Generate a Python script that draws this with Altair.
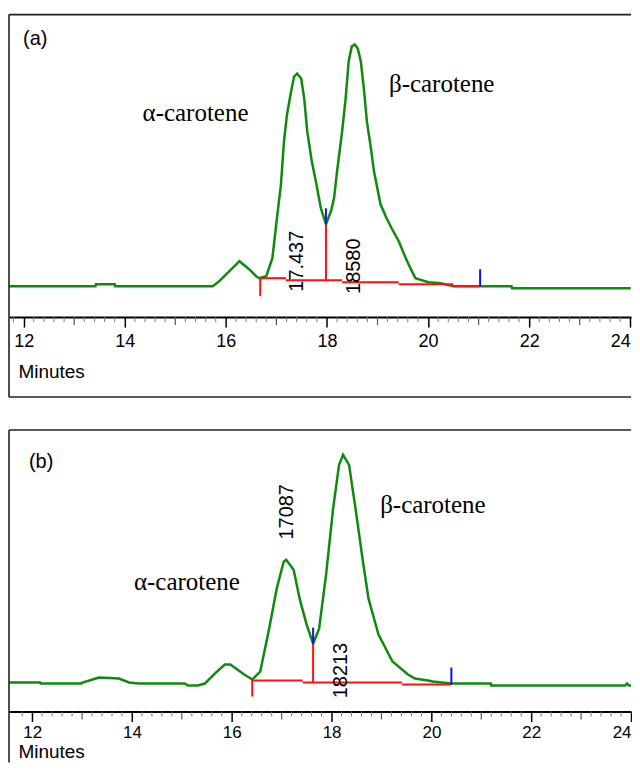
import altair as alt
import pandas as pd

# ---------------- data ----------------
# Panel (a) chromatogram trace (minutes, detector signal above baseline)
a_time = [11.71, 13.42, 13.43, 13.80, 13.81, 15.74, 15.87, 16.07, 16.27, 16.46,
          16.60, 16.66, 16.80, 16.92, 17.01, 17.09, 17.15, 17.21, 17.29, 17.35,
          17.41, 17.49, 17.55, 17.61, 17.70, 17.78, 17.88, 17.98, 18.08, 18.14,
          18.20, 18.30, 18.37, 18.43, 18.49, 18.55, 18.61, 18.67, 18.73, 18.79,
          18.87, 18.93, 19.06, 19.18, 19.28, 19.42, 19.56, 19.66, 19.75, 19.81,
          20.01, 20.25, 20.50, 21.03, 21.65, 21.66, 24.01]
a_signal = [0, 0, 2, 2, 0, 0, 5, 15, 25, 17,
            10, 8, 10, 28, 68, 102, 145, 172, 195, 210,
            213, 208, 188, 155, 125, 105, 78, 62, 75, 88,
            115, 155, 188, 225, 240, 242, 238, 225, 198, 165,
            138, 115, 82, 68, 58, 45, 28, 17, 8, 7,
            4, 3, 0, 0, 0, -2, -2]

# Panel (b) chromatogram trace
b_time = [11.54, 12.16, 12.17, 12.99, 13.01, 13.21, 13.34, 13.74, 13.94, 14.14,
          15.06, 15.12, 15.32, 15.46, 15.66, 15.86, 15.97, 16.25, 16.41, 16.57,
          16.75, 16.90, 17.04, 17.09, 17.24, 17.36, 17.50, 17.63, 17.75, 17.89,
          18.03, 18.15, 18.23, 18.35, 18.48, 18.62, 18.74, 18.94, 19.22, 19.53,
          19.67, 19.93, 20.03, 20.40, 21.19, 21.20, 23.88, 23.92, 23.96, 24.00]
b_signal = [0, 0, -1, -1, 0, 3, 5, 4, 0, -1,
            -1, -3, -3, -1, 9, 18, 18, 8, 3, 11,
            54, 94, 121, 123, 113, 84, 58, 39, 54, 108,
            174, 218, 228, 218, 174, 124, 84, 48, 21, 8,
            4, 2, 1, -1, -1, -3, -3, -1, -3, -3]

# Integration baseline (red) segments: start time, start signal, end time, end signal
a_red_t1 = [16.68, 16.68, 17.19, 18.30, 19.42, 20.50, 17.98]
a_red_v1 = [8, 8, 6, 4, 2, 0, 6]
a_red_t2 = [16.68, 17.19, 18.30, 19.42, 20.50, 21.03, 17.98]
a_red_v2 = [-10, 8, 6, 4, 2, 0, 62]
# Peak markers (blue)
a_blue_t = [17.98, 21.03]
a_blue_v1 = [62, 0]
a_blue_v2 = [78, 17]

b_red_t1 = [16.41, 16.41, 17.42, 19.41, 17.63]
b_red_v1 = [3, 2, 0, -2, 0]
b_red_t2 = [16.41, 17.42, 19.41, 20.40, 17.63]
b_red_v2 = [-14, 2, 0, -2, 39]
b_blue_t = [17.63, 20.40]
b_blue_v1 = [39, -2]
b_blue_v2 = [55, 15]

# Annotations
a_names = ["α-carotene", "β-carotene"]
a_names_t = [15.40, 20.27]
a_names_v = [173, 202]
a_rt = ["17.437", "18580"]
a_rt_t = [17.41, 18.53]
a_rt_v = [25, 20]

b_names = ["α-carotene", "β-carotene"]
b_names_t = [15.10, 20.03]
b_names_v = [101, 178]
b_rt = ["17087", "18213"]
b_rt_t = [17.10, 18.19]
b_rt_v = [171, 12]

major_ticks = [12, 14, 16, 18, 20, 22, 24]
odd_ticks = [13, 15, 17, 19, 21, 23]
minor_ticks = [round(11.8 + 0.2 * i, 1) for i in range(63)]

GREEN = "#0f8a0f"
RED = "#ff1010"
BLUE = "#1010ff"
W = 623


def panel(letter, t, v, r_t1, r_v1, r_t2, r_v2, bl_t, bl_v1, bl_v2,
          names, names_t, names_v, rts, rts_t, rts_v,
          xdom, ydom, h, frame_bottom, letter_t, letter_v, draw_bottom,
          title_y, label_size, label_pad):
    xs = alt.Scale(domain=xdom, nice=False, zero=False)
    ys = alt.Scale(domain=ydom, nice=False, zero=False)
    xaxis = alt.Axis(
        values=major_ticks, tickSize=10, tickColor="black", tickWidth=1.5,
        domainColor="black", domainWidth=2, grid=False,
        labelFont="Liberation Sans", labelFontSize=label_size, labelColor="black",
        labelPadding=label_pad, labelFlush=10, labelOverlap=False,
        title="Minutes", titleFont="Liberation Sans", titleFontSize=19,
        titleFontWeight="normal", titleColor="black", titleAlign="left",
        titleAnchor="start", titleAngle=0, titleX=9, titleY=title_y,
        titleBaseline="middle")
    one = pd.DataFrame({"k": [0]})

    def X(f):
        return alt.X(f, scale=xs, axis=xaxis)

    def Y(f):
        return alt.Y(f, scale=ys, axis=None)

    trace = alt.Chart(pd.DataFrame({"t": t, "v": v})).mark_line(
        color=GREEN, strokeWidth=2.5, clip=True
    ).encode(x=X("t:Q"), y=Y("v:Q"))

    mt = [m for m in minor_ticks if xdom[0] <= m <= xdom[1] and abs(m - round(m)) > 1e-6]
    minor = alt.Chart(pd.DataFrame({"t": mt})).mark_rule(
        color="#777777", strokeWidth=1
    ).encode(x=X("t:Q"), y=alt.value(h), y2=alt.value(h + 5))
    odd = alt.Chart(pd.DataFrame({"t": odd_ticks})).mark_rule(
        color="#555555", strokeWidth=1.2
    ).encode(x=X("t:Q"), y=alt.value(h), y2=alt.value(h + 8))

    red = alt.Chart(pd.DataFrame({"t1": r_t1, "v1": r_v1, "t2": r_t2, "v2": r_v2})).mark_rule(
        color=RED, strokeWidth=2
    ).encode(x=X("t1:Q"), x2="t2:Q", y=Y("v1:Q"), y2="v2:Q")
    blue = alt.Chart(pd.DataFrame({"t": bl_t, "v1": bl_v1, "v2": bl_v2})).mark_rule(
        color=BLUE, strokeWidth=2
    ).encode(x=X("t:Q"), y=Y("v1:Q"), y2="v2:Q")

    name_txt = alt.Chart(pd.DataFrame({"t": names_t, "v": names_v, "s": names})).mark_text(
        font="Liberation Serif", fontSize=25, color="black", align="center", baseline="middle"
    ).encode(x=X("t:Q"), y=Y("v:Q"), text="s:N")

    rt_txt = alt.Chart(pd.DataFrame({"t": rts_t, "v": rts_v, "s": rts})).mark_text(
        font="Liberation Sans", fontSize=20, color="black", align="center",
        baseline="middle", angle=270
    ).encode(x=X("t:Q"), y=Y("v:Q"), text="s:N")

    letter_txt = alt.Chart(pd.DataFrame({"t": [letter_t], "v": [letter_v], "s": [letter]})).mark_text(
        font="Liberation Sans", fontSize=20, color="black", align="center", baseline="middle"
    ).encode(x=X("t:Q"), y=Y("v:Q"), text="s:N")

    frame_top = alt.Chart(one).mark_rule(color="#222222", strokeWidth=1.6).encode(
        x=alt.value(0), x2=alt.value(W), y=alt.value(0))
    frame_left = alt.Chart(one).mark_rule(color="#222222", strokeWidth=1.6).encode(
        x=alt.value(0), y=alt.value(0), y2=alt.value(frame_bottom))
    layers = [trace, frame_top, frame_left, minor, odd, red, blue, name_txt, rt_txt, letter_txt]
    if draw_bottom:
        frame_bot = alt.Chart(one).mark_rule(color="#222222", strokeWidth=1.6).encode(
            x=alt.value(0), x2=alt.value(W), y=alt.value(frame_bottom))
        layers.append(frame_bot)
    return alt.layer(*layers).properties(width=W, height=h)


top = panel("(a)", a_time, a_signal, a_red_t1, a_red_v1, a_red_t2, a_red_v2,
            a_blue_t, a_blue_v1, a_blue_v2, a_names, a_names_t, a_names_v,
            a_rt, a_rt_t, a_rt_v, [11.71, 24.015], [-31, 272], 303, 383, 12.23, 248,
            True, 54, 18, 5)
bottom = panel("(b)", b_time, b_signal, b_red_t1, b_red_v1, b_red_t2, b_red_v2,
               b_blue_t, b_blue_v1, b_blue_v2, b_names, b_names_t, b_names_v,
               b_rt, b_rt_t, b_rt_v, [11.536, 24.00], [-29, 253], 282, 333, 12.18, 221,
               False, 40, 17, 3)

chart = alt.vconcat(top, bottom, spacing=31).properties(
    padding={"left": 0, "top": 5, "right": 0, "bottom": 0}
).configure_view(stroke=None)

chart.save("out.html", embed_options={"renderer": "svg", "actions": False})
